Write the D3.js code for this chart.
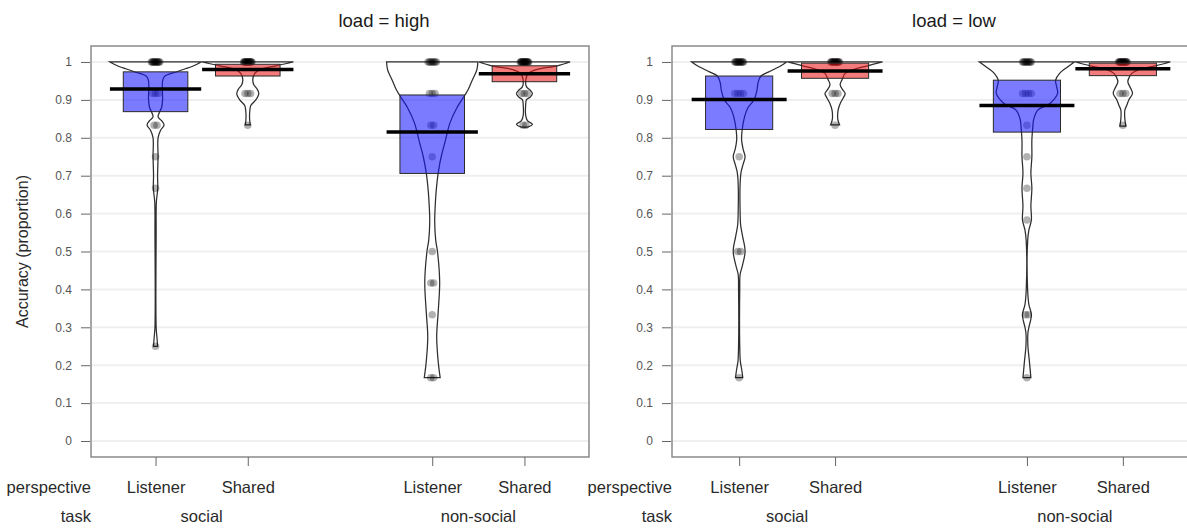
<!DOCTYPE html>
<html>
<head>
<meta charset="utf-8">
<script src="https://cdn.jsdelivr.net/npm/d3@7"></script>
<style>
  html, body { margin: 0; padding: 0; background: #fff; }
  svg { display: block; font-family: "Liberation Sans", Arial, Helvetica, sans-serif; }
</style>
</head>
<body>
<script>
// ---- data ---------------------------------------------------------------
const loads = ["high", "low"];
const tasks = ["social", "non-social"];
const perspectives = ["Listener", "Shared"];
const yTicks = [0, 0.1, 0.2, 0.3, 0.4, 0.5, 0.6, 0.7, 0.8, 0.9, 1];

// bean order within a panel: social/Listener, social/Shared, non-social/Listener, non-social/Shared
const meansHigh = [0.929, 0.980, 0.815, 0.969];
const meansLow  = [0.901, 0.976, 0.885, 0.982];
const ciLowHigh  = [0.869, 0.963, 0.706, 0.948];
const ciHighHigh = [0.974, 0.994, 0.913, 0.990];
const ciLowLow   = [0.822, 0.957, 0.815, 0.964];
const ciHighLow  = [0.963, 0.997, 0.952, 0.997];

// observed accuracies: [value, number of participants]
const pointsHigh = [
  [[1, 12], [0.917, 3], [0.833, 2], [0.75, 1], [0.667, 1], [0.25, 1]],
  [[1, 16], [0.917, 3], [0.833, 1]],
  [[1, 8], [0.917, 3], [0.833, 2], [0.75, 1], [0.5, 1], [0.417, 2], [0.333, 1], [0.167, 2]],
  [[1, 16], [0.917, 3], [0.833, 2]]
];
const pointsLow = [
  [[1, 12], [0.917, 4], [0.75, 1], [0.5, 2], [0.167, 1]],
  [[1, 14], [0.917, 3], [0.833, 1]],
  [[1, 10], [0.917, 4], [0.833, 1], [0.75, 1], [0.667, 1], [0.583, 1], [0.333, 2], [0.167, 1]],
  [[1, 16], [0.917, 3], [0.833, 1]]
];

// bean density outlines: [value, relative density]
const densityHigh = [
  [[1,45.5],[0.99,38],[0.975,22],[0.962,9],[0.95,7],[0.90,7],[0.88,6],[0.868,4],[0.855,2.5],[0.845,6],[0.834,8.5],[0.82,5],[0.80,2.5],[0.75,2.5],[0.70,2],[0.667,2.2],[0.63,0.8],[0.55,0.6],[0.30,0.6],[0.27,1.5],[0.25,2]],
  [[1,45.5],[0.99,28],[0.98,12],[0.97,7],[0.955,5],[0.94,6],[0.93,9],[0.917,11],[0.90,8],[0.885,3],[0.87,2],[0.85,1.8],[0.834,2.5]],
  [[1,46],[0.98,45],[0.95,40],[0.926,36],[0.913,33],[0.88,25],[0.84,18],[0.79,13],[0.75,9],[0.707,6],[0.66,4],[0.62,3],[0.58,2.5],[0.53,3.5],[0.50,5.3],[0.42,7.5],[0.34,6],[0.275,4.5],[0.21,6],[0.167,8]],
  [[1,46],[0.99,33],[0.98,12],[0.97,4],[0.955,1.5],[0.935,2],[0.925,6],[0.917,8],[0.908,6],[0.90,2],[0.885,1.2],[0.86,1.2],[0.845,3],[0.836,8],[0.828,3]]
];
const densityLow = [
  [[1,48],[0.988,41],[0.974,30],[0.963,22],[0.944,19],[0.925,18],[0.90,15],[0.88,9],[0.856,5.5],[0.82,3],[0.794,2.5],[0.77,4],[0.75,6],[0.73,4],[0.71,2],[0.68,1],[0.60,1],[0.57,1.5],[0.54,3.5],[0.50,6],[0.46,3],[0.44,1],[0.40,0.6],[0.25,0.6],[0.21,1.2],[0.19,2.5],[0.167,3.7]],
  [[1,47],[0.99,32],[0.98,18],[0.97,10],[0.954,7],[0.94,5],[0.925,8],[0.917,10],[0.905,8],[0.89,5],[0.873,3],[0.855,2.5],[0.845,3],[0.834,4.5]],
  [[1,48],[0.988,41.7],[0.97,33],[0.952,29],[0.935,30],[0.917,31],[0.89,23],[0.873,11],[0.847,6.7],[0.83,6],[0.794,5],[0.75,5],[0.707,4],[0.667,5],[0.62,4],[0.583,4.5],[0.557,2],[0.53,0.8],[0.40,0.7],[0.36,2],[0.333,4.5],[0.30,2],[0.285,1],[0.25,1],[0.21,2.5],[0.167,4]],
  [[1,47.8],[0.99,33],[0.98,16],[0.97,9],[0.961,6.7],[0.948,5],[0.93,8],[0.917,9.7],[0.90,6],[0.886,4],[0.873,2],[0.85,2],[0.831,3]]
];

// ---- layout -------------------------------------------------------------
const W = 1187, H = 528;
const beanPos = [1, 2, 4, 5];
const panels = [
  { load: loads[0], range: [91, 589], titleX: 384, means: meansHigh, lo: ciLowHigh, hi: ciHighHigh, pts: pointsHigh, dens: densityHigh },
  { load: loads[1], range: [672, 1190], titleX: 954, means: meansLow, lo: ciLowLow, hi: ciHighLow, pts: pointsLow, dens: densityLow }
];
const fills = ["rgba(20,20,255,0.56)", "rgba(235,20,20,0.56)"];
const beanHalf = 0.495, boxHalf = 0.35, lineHalf = 0.495;

const svg = d3.select("body").append("svg").attr("width", W).attr("height", H);
const y = d3.scaleLinear().domain([-0.0422, 1.0422]).range([457, 46]);

panels.forEach((p, pi) => {
  const x = d3.scaleLinear().domain([0.3, 5.7]).range(p.range);
  const g = svg.append("g");

  // horizontal guide lines
  g.selectAll("line.grid").data(yTicks).join("line")
    .attr("x1", p.range[0]).attr("x2", p.range[1])
    .attr("y1", d => y(d)).attr("y2", d => y(d))
    .attr("stroke", "#efefef").attr("stroke-width", 2);

  // beans
  p.dens.forEach((prof, bi) => {
    const maxD = d3.max(prof, d => d[1]);
    const pos = beanPos[bi];
    const area = d3.area()
      .y(d => y(d[0]))
      .x0(d => x(pos - d[1] / maxD * beanHalf))
      .x1(d => x(pos + d[1] / maxD * beanHalf))
      .curve(d3.curveCatmullRom.alpha(0.5));
    g.append("path").attr("d", area(prof))
      .attr("fill", "none").attr("stroke", "#2e2e2e").attr("stroke-width", 1.25);
  });

  // raw points
  p.pts.forEach((list, bi) => {
    const pos = beanPos[bi];
    list.forEach(([v, n]) => {
      const step = n > 1 ? Math.min(0.03, 0.09 / (n - 1)) : 0;
      d3.range(n).forEach(i => {
        g.append("circle")
          .attr("cx", x(pos + (i - (n - 1) / 2) * step))
          .attr("cy", y(v)).attr("r", 3.8)
          .attr("fill", "#000").attr("fill-opacity", 0.3);
      });
    });
  });

  // inference bands
  beanPos.forEach((pos, bi) => {
    g.append("rect")
      .attr("x", x(pos - boxHalf)).attr("width", x(pos + boxHalf) - x(pos - boxHalf))
      .attr("y", y(p.hi[bi])).attr("height", y(p.lo[bi]) - y(p.hi[bi]))
      .attr("fill", fills[bi % 2]).attr("stroke", "#2a2a2a").attr("stroke-width", 1);
  });

  // average lines
  beanPos.forEach((pos, bi) => {
    g.append("line")
      .attr("x1", x(pos - lineHalf)).attr("x2", x(pos + lineHalf))
      .attr("y1", y(p.means[bi])).attr("y2", y(p.means[bi]))
      .attr("stroke", "#000").attr("stroke-width", 3.5);
  });

  // panel frame
  g.append("rect")
    .attr("x", p.range[0]).attr("y", 46)
    .attr("width", p.range[1] - p.range[0]).attr("height", 411)
    .attr("fill", "none").attr("stroke", "#8a8a8a").attr("stroke-width", 1.5);

  // y axis
  const ya = g.append("g").attr("transform", `translate(${p.range[0] - 1},0)`)
    .call(d3.axisLeft(y).tickValues(yTicks).tickSize(9).tickPadding(9)
      .tickFormat(d => d3.format("~g")(d)));
  ya.select(".domain").remove();
  ya.selectAll("line").attr("stroke", "#666");
  ya.selectAll("text").attr("font-size", 12).attr("fill", "#555")
    .attr("font-family", "Liberation Sans, Arial, sans-serif");

  // x axis
  const xa = g.append("g").attr("transform", "translate(0,457)")
    .call(d3.axisBottom(x).tickValues(beanPos).tickSize(9)
      .tickFormat((d, i) => perspectives[i % 2]));
  xa.select(".domain").remove();
  xa.selectAll("line").attr("stroke", "#666");
  xa.selectAll("text").attr("y", 36).attr("dy", null)
    .attr("font-size", 16.5).attr("fill", "#2a2a2a")
    .attr("font-family", "Liberation Sans, Arial, sans-serif");

  // row labels
  g.append("text").attr("x", p.range[0]).attr("y", 493).attr("text-anchor", "end")
    .attr("font-size", 16.5).attr("fill", "#2a2a2a").text("perspective");
  g.append("text").attr("x", p.range[0]).attr("y", 522).attr("text-anchor", "end")
    .attr("font-size", 16.5).attr("fill", "#2a2a2a").text("task");
  tasks.forEach((t, ti) => {
    g.append("text").attr("x", x(1.5 + ti * 3)).attr("y", 522).attr("text-anchor", "middle")
      .attr("font-size", 16.5).attr("fill", "#2a2a2a").text(t);
  });

  // panel title
  g.append("text").attr("x", p.titleX).attr("y", 27).attr("text-anchor", "middle")
    .attr("font-size", 18.5).attr("fill", "#1a1a1a").text(`load = ${p.load}`);
});

// y axis title
svg.append("text")
  .attr("transform", `translate(28,${y(0.5)}) rotate(-90)`)
  .attr("text-anchor", "middle").attr("font-size", 16).attr("fill", "#2a2a2a")
  .text("Accuracy (proportion)");
</script>
</body>
</html>
